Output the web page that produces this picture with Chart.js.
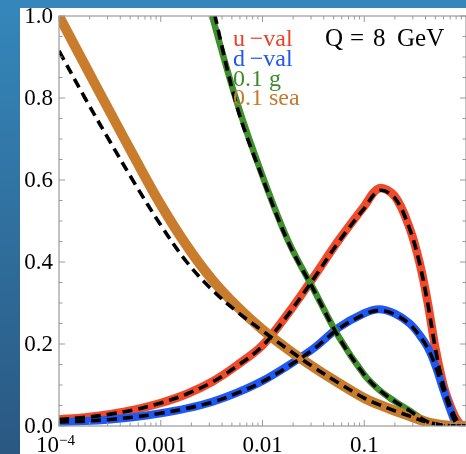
<!DOCTYPE html>
<html>
<head>
<meta charset="utf-8">
<script src="https://cdn.jsdelivr.net/npm/chart.js@4/dist/chart.umd.min.js"></script>
<style>
html, body { margin: 0; padding: 0; overflow: hidden; }
body { width: 466px; height: 454px; position: relative; background: linear-gradient(#3587bb, #2a5882); }
#panel { position: absolute; left: 20px; top: 8px; width: 446px; height: 446px; background: #fff; }
#wrap { position: absolute; left: 0; top: 0; }
</style>
</head>
<body>
<div id="panel"></div>
<div id="wrap"><canvas id="pdf" width="466" height="454"></canvas></div>
<script>
// x grid (momentum fraction) shared by all curves
var xGrid = [0.0001, 0.00018, 0.00032, 0.00056, 0.001, 0.0018, 0.0032, 0.0056, 0.01, 0.018, 0.032, 0.056, 0.1, 0.14, 0.2, 0.28, 0.35, 0.42, 0.5, 0.6, 0.7, 0.8, 0.9, 1.0];

var uVal   = [0.016, 0.021, 0.029, 0.040, 0.056, 0.078, 0.108, 0.148, 0.197, 0.276, 0.364, 0.453, 0.536, 0.580, 0.560, 0.482, 0.398, 0.302, 0.190, 0.100, 0.050, 0.018, 0.002, 0];
var uValB  = [0.016, 0.021, 0.029, 0.040, 0.056, 0.078, 0.107, 0.146, 0.195, 0.273, 0.360, 0.449, 0.531, 0.574, 0.556, 0.480, 0.396, 0.300, 0.189, 0.099, 0.049, 0.017, 0.002, 0];
var dVal   = [0.010, 0.012, 0.016, 0.022, 0.031, 0.043, 0.059, 0.081, 0.110, 0.148, 0.190, 0.240, 0.275, 0.285, 0.274, 0.250, 0.222, 0.192, 0.148, 0.088, 0.040, 0.006, 0, 0];
var dValB  = [0.010, 0.012, 0.016, 0.022, 0.031, 0.043, 0.058, 0.080, 0.108, 0.146, 0.188, 0.237, 0.272, 0.282, 0.272, 0.248, 0.220, 0.190, 0.147, 0.087, 0.039, 0.006, 0, 0];
var glu    = [null, null, null, 1.90, 1.55, 1.24, 1.0, 0.79, 0.610, 0.450, 0.332, 0.218, 0.125, 0.088, 0.060, 0.037, 0.021, 0.010, 0.004, 0.001, 0, 0, 0, 0];
var gluB   = [null, null, null, 2.00, 1.62, 1.29, 1.03, 0.78, 0.605, 0.447, 0.331, 0.217, 0.125, 0.088, 0.060, 0.037, 0.021, 0.010, 0.004, 0.001, 0, 0, 0, 0];
var sea    = [1.0, 0.880, 0.764, 0.652, 0.540, 0.440, 0.357, 0.292, 0.235, 0.186, 0.143, 0.105, 0.068, 0.052, 0.037, 0.024, 0.015, 0.009, 0.005, 0.002, 0.0005, 0, 0, 0];
var seaB   = [0.915, 0.800, 0.692, 0.590, 0.490, 0.400, 0.332, 0.279, 0.232, 0.186, 0.143, 0.105, 0.068, 0.052, 0.037, 0.024, 0.015, 0.009, 0.005, 0.002, 0.0005, 0, 0, 0];

var yTicks = [0.0, 0.2, 0.4, 0.6, 0.8, 1.0];
var yTickText = ['0.0', '0.2', '0.4', '0.6', '0.8', '1.0'];
var xTicks = [0.0001, 0.001, 0.01, 0.1];
var xTickText = ['10^\u22124', '0.001', '0.01', '0.1'];

var legendText = ['u\u2009\u2212val', 'd\u2009\u2212val', '0.1 g', '0.1 sea'];
var legendColors = ['#ee4026', '#1f55f0', '#3c8a2a', '#c67a2e'];
var title = ['Q', '=', '8', 'GeV'];

function pts(ys) {
  var out = [];
  for (var i = 0; i < xGrid.length; i++) {
    if (ys[i] !== null) out.push({x: xGrid[i], y: ys[i]});
  }
  return out;
}

function band(ys, color, w) {
  return {data: pts(ys), borderColor: color, borderWidth: w, pointRadius: 0,
          tension: 0.35, clip: 0, order: 2};
}
function dashed(ys) {
  return {data: pts(ys), borderColor: '#000', borderWidth: 3.6, borderDash: [10, 6],
          pointRadius: 0, tension: 0.35, clip: 0, order: 1};
}

var SERIF = '"Liberation Serif", "DejaVu Serif", serif';

var framePlugin = {
  id: 'frame',
  afterDraw: function(chart) {
    var ctx = chart.ctx, a = chart.chartArea;
    var xs = chart.scales.x, ys = chart.scales.y;
    ctx.save();
    ctx.strokeStyle = '#9a9a9a';
    ctx.lineWidth = 1.2;
    ctx.strokeRect(a.left, a.top, a.right - a.left, a.bottom - a.top);
    ctx.lineWidth = 1;
    ctx.beginPath();
    // y ticks, every 0.05
    for (var k = 0; k <= 20; k++) {
      var py = ys.getPixelForValue(k * 0.05);
      var len = (k % 4 === 0) ? 6 : 3.5;
      ctx.moveTo(a.left, py); ctx.lineTo(a.left + len, py);
      ctx.moveTo(a.right, py); ctx.lineTo(a.right - len, py);
    }
    // x ticks, log decades
    for (var d = -4; d < 0; d++) {
      for (var m = 1; m <= 9; m++) {
        var px = xs.getPixelForValue(m * Math.pow(10, d));
        var l2 = (m === 1) ? 6 : 3.5;
        ctx.moveTo(px, a.bottom); ctx.lineTo(px, a.bottom - l2);
        ctx.moveTo(px, a.top); ctx.lineTo(px, a.top + l2);
      }
    }
    ctx.stroke();

    // tick labels
    ctx.fillStyle = '#000';
    ctx.font = '23px ' + SERIF;
    ctx.textAlign = 'right';
    ctx.textBaseline = 'middle';
    for (var i = 0; i < yTicks.length; i++) {
      ctx.fillText(yTickText[i], 53, ys.getPixelForValue(yTicks[i]) + 1);
    }
    ctx.textBaseline = 'alphabetic';
    for (var j = 0; j < xTicks.length; j++) {
      var tx = xs.getPixelForValue(xTicks[j]);
      var t = xTickText[j];
      if (t.indexOf('^') >= 0) {
        var parts = t.split('^');
        ctx.font = '23px ' + SERIF;
        ctx.textAlign = 'right';
        ctx.fillText(parts[0], tx, 452);
        ctx.font = '15px ' + SERIF;
        ctx.textAlign = 'left';
        ctx.fillText(parts[1], tx, 445);
      } else {
        ctx.font = '23px ' + SERIF;
        ctx.textAlign = 'center';
        ctx.fillText(t, tx, 452);
      }
    }

    // in-plot legend and title
    ctx.font = '24px ' + SERIF;
    ctx.textAlign = 'left';
    var base = [46, 66, 86, 105];
    for (var n = 0; n < legendText.length; n++) {
      ctx.fillStyle = legendColors[n];
      ctx.fillText(legendText[n], 233, base[n]);
    }
    ctx.fillStyle = '#000';
    ctx.font = '25px ' + SERIF;
    var tpos = [325, 350, 373, 397];
    for (var q = 0; q < title.length; q++) {
      ctx.fillText(title[q], tpos[q], 46);
    }
    ctx.restore();
  }
};

var chart = new Chart(document.getElementById('pdf'), {
  type: 'line',
  data: {
    datasets: [
      dashed(uValB), dashed(dValB), dashed(gluB), dashed(seaB),
      band(sea, '#c97c2c', 10),
      band(glu, '#3f8f2c', 6.5),
      band(dVal, '#1f58f2', 8),
      band(uVal, '#f04a2a', 8.5)
    ]
  },
  options: {
    responsive: false,
    animation: false,
    layout: {padding: {left: 59, top: 16, right: 0, bottom: 28}},
    plugins: {legend: {display: false}, tooltip: {enabled: false}},
    scales: {
      x: {type: 'logarithmic', min: 0.0001, max: 1, display: false},
      y: {type: 'linear', min: 0, max: 1, display: false}
    }
  },
  plugins: [framePlugin]
});
</script>
</body>
</html>
